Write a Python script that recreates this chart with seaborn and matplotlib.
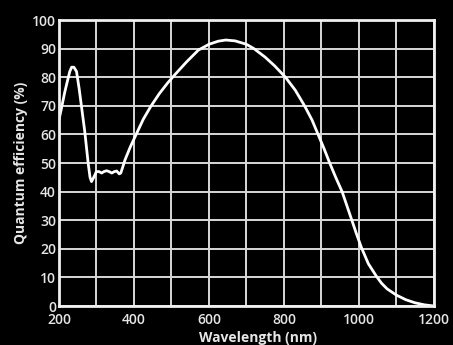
import matplotlib
matplotlib.use("Agg")
import matplotlib.pyplot as plt
import seaborn as sns
import pandas as pd

# Values
wavelength = [200, 205, 216, 229, 234, 240, 247, 254, 260, 269, 278, 283, 287, 293,
              300, 307, 314, 320, 327, 334, 341, 348, 354, 361, 365, 370, 376, 390,
              406, 425, 445, 468, 490, 510, 540, 572, 600, 625, 645, 670, 700, 720,
              750, 775, 804, 830, 855, 875, 891, 907, 922, 938, 955, 968, 981, 994,
              1007, 1025, 1046, 1060, 1075, 1100, 1125, 1150, 1175, 1200]
efficiency = [65, 68, 75, 82, 83.5, 83.5, 82, 76, 70, 61, 50, 45, 43.5, 45,
              47, 47, 46.5, 47, 47.3, 47, 46.5, 47, 47.2, 46.2, 46.5, 48.5, 51, 55.5,
              60, 65.3, 69.8, 74.3, 78, 81, 85.3, 89.5, 91.5, 92.6, 93, 92.7, 91.5, 90,
              87, 84, 80, 75.5, 70, 65, 60, 55, 50, 45, 40, 35, 30, 25,
              20.3, 14.8, 10.5, 8, 6, 3.8, 2.2, 1.1, 0.4, 0]

x_labels = [200, 400, 600, 800, 1000, 1200]
x_grid = [300, 500, 700, 900, 1100]
y_labels = list(range(0, 101, 10))

df = pd.DataFrame({"Wavelength": wavelength, "QE": efficiency})

sns.set_theme(style="dark")
plt.rcParams["font.family"] = ["Open Sans", "DejaVu Sans"]

fg = "#e6e6e6"
fig = plt.figure(figsize=(4.53, 3.45), dpi=100, facecolor="black")
ax = fig.add_axes([0.130, 0.113, 0.828, 0.829])
ax.set_facecolor("black")

sns.lineplot(data=df, x="Wavelength", y="QE", ax=ax, color="white", linewidth=2)

ax.set_xlim(200, 1200)
ax.set_ylim(0, 100)
ax.set_xticks(x_labels)
ax.set_xticks(x_grid, minor=True)
ax.set_yticks(y_labels)
ax.grid(True, which="both", color="#d8d8d8", linewidth=1.4)
ax.set_axisbelow(True)
ax.tick_params(which="both", length=0, colors=fg, labelsize=10)
ax.tick_params(axis="x", pad=5)
ax.tick_params(axis="y", pad=2)
for lab in ax.get_xticklabels() + ax.get_yticklabels():
    lab.set_fontweight("semibold")

for s in ax.spines.values():
    s.set_color("#f0f0f0")
    s.set_linewidth(2)
    s.set_visible(True)

ax.set_xlabel("Wavelength (nm)", color=fg, fontsize=10, fontweight="bold")
ax.xaxis.set_label_coords(0.53, -0.087)
ax.set_ylabel("Quantum efficiency (%)", color=fg, fontsize=10, fontweight="bold", labelpad=3)

fig.savefig("out.png", dpi=100, facecolor="black")
